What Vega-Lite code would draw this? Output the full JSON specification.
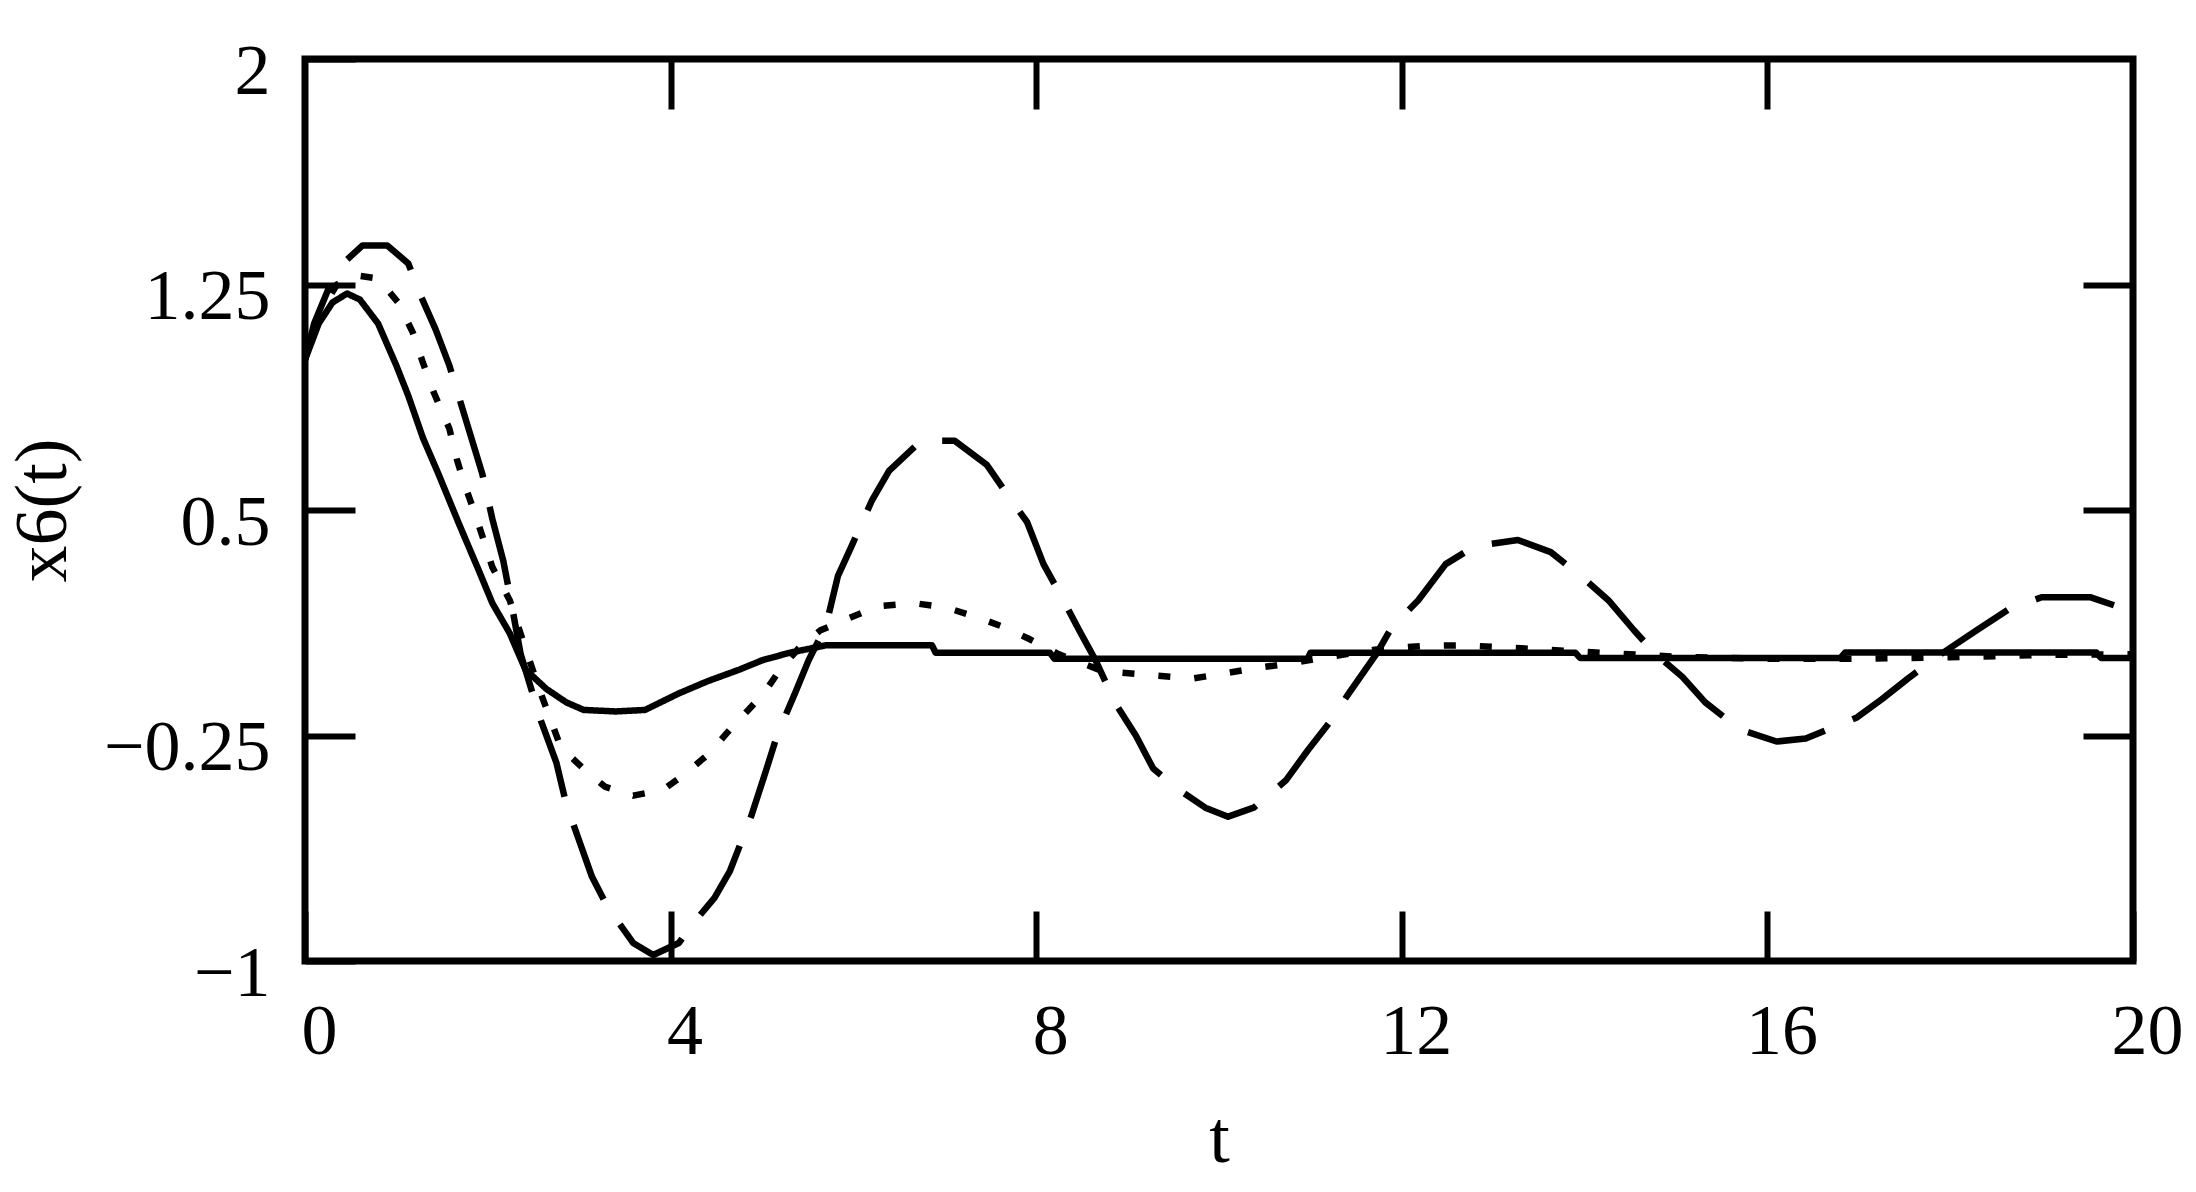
{
  "$schema": "https://vega.github.io/schema/vega-lite/v6.json",
  "autosize": "none",
  "width": 1828,
  "height": 902,
  "padding": {"left": 305, "top": 59, "right": 63, "bottom": 231},
  "background": "white",
  "config": {
    "view": {"stroke": "black", "strokeWidth": 7},
    "axis": {
      "grid": false,
      "domain": false,
      "tickColor": "black",
      "tickWidth": 6,
      "tickSize": -50,
      "labelFont": "Liberation Serif",
      "labelFontSize": 72,
      "labelColor": "black",
      "labelFlush": false,
      "labelOverlap": false,
      "titleFont": "Liberation Serif",
      "titleFontSize": 74,
      "titleFontWeight": "normal",
      "titleColor": "black"
    }
  },
  "data": {
    "values": [
      {"series": "a", "t": 0, "y": 1.0},
      {"series": "a", "t": 0.15, "y": 1.12},
      {"series": "a", "t": 0.3, "y": 1.19},
      {"series": "a", "t": 0.46, "y": 1.22},
      {"series": "a", "t": 0.6, "y": 1.2},
      {"series": "a", "t": 0.8, "y": 1.12},
      {"series": "a", "t": 1.0, "y": 0.98},
      {"series": "a", "t": 1.13, "y": 0.88},
      {"series": "a", "t": 1.29, "y": 0.74},
      {"series": "a", "t": 1.46, "y": 0.62},
      {"series": "a", "t": 1.69, "y": 0.45},
      {"series": "a", "t": 1.9, "y": 0.3},
      {"series": "a", "t": 2.05, "y": 0.19},
      {"series": "a", "t": 2.24, "y": 0.09},
      {"series": "a", "t": 2.41, "y": -0.03},
      {"series": "a", "t": 2.64, "y": -0.095},
      {"series": "a", "t": 2.86, "y": -0.14},
      {"series": "a", "t": 3.05, "y": -0.165},
      {"series": "a", "t": 3.4, "y": -0.17},
      {"series": "a", "t": 3.72, "y": -0.165},
      {"series": "a", "t": 4.09, "y": -0.11},
      {"series": "a", "t": 4.4, "y": -0.07},
      {"series": "a", "t": 4.76, "y": -0.03},
      {"series": "a", "t": 5.0, "y": 0.0},
      {"series": "a", "t": 5.3, "y": 0.025},
      {"series": "a", "t": 5.7, "y": 0.05},
      {"series": "a", "t": 6.86, "y": 0.05},
      {"series": "a", "t": 6.9, "y": 0.025},
      {"series": "a", "t": 8.15, "y": 0.025},
      {"series": "a", "t": 8.2, "y": 0.005},
      {"series": "a", "t": 10.97, "y": 0.005},
      {"series": "a", "t": 11.0, "y": 0.025},
      {"series": "a", "t": 13.9, "y": 0.025},
      {"series": "a", "t": 13.95, "y": 0.008},
      {"series": "a", "t": 16.8, "y": 0.008},
      {"series": "a", "t": 16.85, "y": 0.026},
      {"series": "a", "t": 19.6, "y": 0.026},
      {"series": "a", "t": 19.65, "y": 0.008},
      {"series": "a", "t": 20, "y": 0.008},
      {"series": "b", "t": 0, "y": 1.0},
      {"series": "b", "t": 0.15, "y": 1.15},
      {"series": "b", "t": 0.35, "y": 1.25},
      {"series": "b", "t": 0.57, "y": 1.28},
      {"series": "b", "t": 0.8, "y": 1.27},
      {"series": "b", "t": 1.02, "y": 1.19},
      {"series": "b", "t": 1.18, "y": 1.09},
      {"series": "b", "t": 1.29, "y": 0.99},
      {"series": "b", "t": 1.41, "y": 0.89},
      {"series": "b", "t": 1.58, "y": 0.77},
      {"series": "b", "t": 1.66, "y": 0.67},
      {"series": "b", "t": 1.74, "y": 0.59},
      {"series": "b", "t": 1.88, "y": 0.47},
      {"series": "b", "t": 2.05, "y": 0.31},
      {"series": "b", "t": 2.24, "y": 0.2},
      {"series": "b", "t": 2.4, "y": 0.05},
      {"series": "b", "t": 2.58, "y": -0.11},
      {"series": "b", "t": 2.8, "y": -0.29},
      {"series": "b", "t": 3.08, "y": -0.37},
      {"series": "b", "t": 3.28, "y": -0.42},
      {"series": "b", "t": 3.59, "y": -0.45},
      {"series": "b", "t": 3.92, "y": -0.43},
      {"series": "b", "t": 4.15, "y": -0.38},
      {"series": "b", "t": 4.42, "y": -0.31},
      {"series": "b", "t": 4.65, "y": -0.23},
      {"series": "b", "t": 4.85, "y": -0.165},
      {"series": "b", "t": 5.02, "y": -0.11},
      {"series": "b", "t": 5.2, "y": -0.03},
      {"series": "b", "t": 5.4, "y": 0.04},
      {"series": "b", "t": 5.64, "y": 0.1},
      {"series": "b", "t": 5.95, "y": 0.14},
      {"series": "b", "t": 6.27, "y": 0.18},
      {"series": "b", "t": 6.67, "y": 0.19},
      {"series": "b", "t": 7.02, "y": 0.175},
      {"series": "b", "t": 7.34, "y": 0.145},
      {"series": "b", "t": 7.65, "y": 0.11},
      {"series": "b", "t": 7.93, "y": 0.07},
      {"series": "b", "t": 8.25, "y": 0.02},
      {"series": "b", "t": 8.72, "y": -0.035},
      {"series": "b", "t": 9.28, "y": -0.05},
      {"series": "b", "t": 9.72, "y": -0.06},
      {"series": "b", "t": 10.03, "y": -0.045},
      {"series": "b", "t": 10.42, "y": -0.025},
      {"series": "b", "t": 10.79, "y": -0.01},
      {"series": "b", "t": 11.17, "y": 0.01},
      {"series": "b", "t": 11.7, "y": 0.035},
      {"series": "b", "t": 12.23, "y": 0.048},
      {"series": "b", "t": 12.65, "y": 0.05},
      {"series": "b", "t": 13.02, "y": 0.045},
      {"series": "b", "t": 13.6, "y": 0.035},
      {"series": "b", "t": 14.2, "y": 0.025},
      {"series": "b", "t": 15.0, "y": 0.012},
      {"series": "b", "t": 16.0, "y": 0.005},
      {"series": "b", "t": 17.0, "y": 0.005},
      {"series": "b", "t": 18.0, "y": 0.01},
      {"series": "b", "t": 19.0, "y": 0.018},
      {"series": "b", "t": 20.0, "y": 0.02},
      {"series": "c", "t": 0, "y": 1.0},
      {"series": "c", "t": 0.1, "y": 1.12},
      {"series": "c", "t": 0.29, "y": 1.26},
      {"series": "c", "t": 0.45, "y": 1.33},
      {"series": "c", "t": 0.63, "y": 1.38},
      {"series": "c", "t": 0.9, "y": 1.38},
      {"series": "c", "t": 1.13, "y": 1.32},
      {"series": "c", "t": 1.27, "y": 1.21},
      {"series": "c", "t": 1.43, "y": 1.1},
      {"series": "c", "t": 1.58, "y": 0.98},
      {"series": "c", "t": 1.69, "y": 0.87},
      {"series": "c", "t": 1.8, "y": 0.76},
      {"series": "c", "t": 1.94, "y": 0.62},
      {"series": "c", "t": 2.05, "y": 0.47},
      {"series": "c", "t": 2.17, "y": 0.33},
      {"series": "c", "t": 2.24, "y": 0.22},
      {"series": "c", "t": 2.36, "y": 0.02},
      {"series": "c", "t": 2.58, "y": -0.2},
      {"series": "c", "t": 2.75, "y": -0.34},
      {"series": "c", "t": 2.86, "y": -0.48},
      {"series": "c", "t": 3.0, "y": -0.6},
      {"series": "c", "t": 3.14, "y": -0.72},
      {"series": "c", "t": 3.31, "y": -0.82},
      {"series": "c", "t": 3.59, "y": -0.94},
      {"series": "c", "t": 3.81, "y": -0.98},
      {"series": "c", "t": 4.09, "y": -0.94},
      {"series": "c", "t": 4.26, "y": -0.87},
      {"series": "c", "t": 4.48, "y": -0.79},
      {"series": "c", "t": 4.65, "y": -0.7},
      {"series": "c", "t": 4.88, "y": -0.52},
      {"series": "c", "t": 5.03, "y": -0.38},
      {"series": "c", "t": 5.17, "y": -0.245},
      {"series": "c", "t": 5.36, "y": -0.11},
      {"series": "c", "t": 5.51, "y": 0.0},
      {"series": "c", "t": 5.7, "y": 0.115},
      {"series": "c", "t": 5.83, "y": 0.28},
      {"series": "c", "t": 5.98, "y": 0.38},
      {"series": "c", "t": 6.2, "y": 0.53},
      {"series": "c", "t": 6.39, "y": 0.63},
      {"series": "c", "t": 6.74, "y": 0.73},
      {"series": "c", "t": 7.11, "y": 0.73},
      {"series": "c", "t": 7.46, "y": 0.65},
      {"series": "c", "t": 7.71, "y": 0.54},
      {"series": "c", "t": 7.9, "y": 0.46},
      {"series": "c", "t": 8.08, "y": 0.32},
      {"series": "c", "t": 8.28, "y": 0.21},
      {"series": "c", "t": 8.47, "y": 0.1},
      {"series": "c", "t": 8.65, "y": 0.0},
      {"series": "c", "t": 8.87, "y": -0.145},
      {"series": "c", "t": 9.09, "y": -0.25},
      {"series": "c", "t": 9.28, "y": -0.36},
      {"series": "c", "t": 9.56, "y": -0.43},
      {"series": "c", "t": 9.85, "y": -0.49},
      {"series": "c", "t": 10.1, "y": -0.52},
      {"series": "c", "t": 10.38, "y": -0.49},
      {"series": "c", "t": 10.73, "y": -0.4},
      {"series": "c", "t": 10.97, "y": -0.3},
      {"series": "c", "t": 11.2, "y": -0.21},
      {"series": "c", "t": 11.42, "y": -0.11},
      {"series": "c", "t": 11.73, "y": 0.025},
      {"series": "c", "t": 11.89, "y": 0.11},
      {"series": "c", "t": 12.18, "y": 0.2},
      {"series": "c", "t": 12.48, "y": 0.32},
      {"series": "c", "t": 12.8, "y": 0.38},
      {"series": "c", "t": 13.27, "y": 0.4},
      {"series": "c", "t": 13.63, "y": 0.36},
      {"series": "c", "t": 14.0, "y": 0.27},
      {"series": "c", "t": 14.26, "y": 0.2},
      {"series": "c", "t": 14.54, "y": 0.1},
      {"series": "c", "t": 14.78, "y": 0.02},
      {"series": "c", "t": 15.07, "y": -0.055},
      {"series": "c", "t": 15.32, "y": -0.14},
      {"series": "c", "t": 15.7, "y": -0.23},
      {"series": "c", "t": 16.1, "y": -0.27},
      {"series": "c", "t": 16.42, "y": -0.26},
      {"series": "c", "t": 16.98, "y": -0.19},
      {"series": "c", "t": 17.25, "y": -0.13},
      {"series": "c", "t": 17.54, "y": -0.06},
      {"series": "c", "t": 17.87, "y": 0.015},
      {"series": "c", "t": 18.29, "y": 0.1},
      {"series": "c", "t": 18.64, "y": 0.17},
      {"series": "c", "t": 19.0, "y": 0.21},
      {"series": "c", "t": 19.53, "y": 0.21},
      {"series": "c", "t": 19.92, "y": 0.17},
      {"series": "c", "t": 20.0, "y": 0.16}
    ]
  },
  "layer": [
    {
      "mark": {"type": "line", "color": "black", "strokeWidth": 6.5, "strokeCap": "butt", "strokeJoin": "round"},
      "encoding": {
        "x": {
          "field": "t", "type": "quantitative",
          "scale": {"domain": [0, 20], "nice": false, "zero": false},
          "axis": {"orient": "bottom", "values": [0, 4, 8, 12, 16, 20], "format": ".3~g", "title": "t", "labelPadding": 85, "labelOffset": 14, "labelBaseline": "top", "titlePadding": 36}
        },
        "y": {
          "field": "y", "type": "quantitative",
          "scale": {"domain": [-1, 2], "nice": false, "zero": false},
          "axis": {"orient": "left", "values": [-1, -0.25, 0.5, 1.25, 2], "format": ".3~g", "title": "x6(t)", "labelPadding": 85, "labelOffset": 12, "labelBaseline": "middle", "titlePadding": 24}
        },
        "strokeDash": {
          "field": "series", "type": "nominal",
          "scale": {"domain": ["a", "b", "c"], "range": [[1, 0], [12, 24], [80, 30]]},
          "legend": null
        }
      }
    },
    {
      "mark": {"type": "line", "strokeOpacity": 0},
      "encoding": {
        "x": {
          "field": "t", "type": "quantitative",
          "axis": {"orient": "top", "values": [4, 8, 12, 16], "labels": false, "title": null}
        },
        "y": {
          "field": "y", "type": "quantitative",
          "axis": {"orient": "right", "values": [-0.25, 0.5, 1.25], "labels": false, "title": null}
        },
        "detail": {"field": "series", "type": "nominal"}
      }
    }
  ],
  "resolve": {"axis": {"x": "independent", "y": "independent"}}
}
